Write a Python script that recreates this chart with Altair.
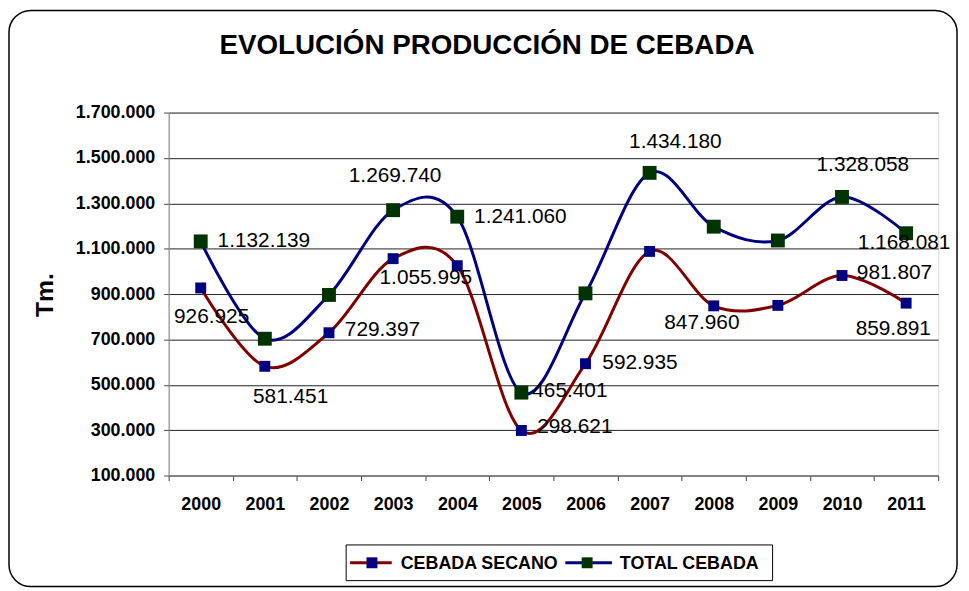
import altair as alt
import pandas as pd

# ---------------- data ----------------
years = ["2000", "2001", "2002", "2003", "2004", "2005",
         "2006", "2007", "2008", "2009", "2010", "2011"]
secano = [926925, 581451, 729397, 1055995, 1025000, 298621,
          592935, 1088000, 847960, 850000, 981807, 859891]
total = [1132139, 703000, 896000, 1269740, 1241060, 465401,
         903000, 1434180, 1197000, 1136000, 1328058, 1168081]
series_names = ["CEBADA SECANO", "TOTAL CEBADA"]
y_ticks = [100000, 300000, 500000, 700000, 900000, 1100000,
           1300000, 1500000, 1700000]
title_text = "EVOLUCIÓN PRODUCCIÓN DE CEBADA"
y_title = "Tm."

# which points carry a value label
secano_labeled = ["2000", "2001", "2002", "2003", "2005", "2006", "2008", "2010", "2011"]
total_labeled = ["2000", "2003", "2004", "2005", "2007", "2010", "2011"]


def fmt(v):
    return f"{v:,}".replace(",", ".")


rows = []
for name, vals in zip(series_names, [secano, total]):
    for yr, v in zip(years, vals):
        rows.append({"year": yr, "series": name, "value": v, "label": fmt(v)})
df = pd.DataFrame(rows)

# ---------------- layout (label placement, pixels) ----------------
label_place = {
    ("TOTAL CEBADA", "2000"): (17, 0, "left"),
    ("TOTAL CEBADA", "2003"): (2, -34, "center"),
    ("TOTAL CEBADA", "2004"): (17, 0, "left"),
    ("TOTAL CEBADA", "2005"): (11, -2, "left"),
    ("TOTAL CEBADA", "2007"): (26, -31, "center"),
    ("TOTAL CEBADA", "2010"): (21, -32, "center"),
    ("TOTAL CEBADA", "2011"): (-2, 10, "center"),
    ("CEBADA SECANO", "2000"): (11, 29, "center"),
    ("CEBADA SECANO", "2001"): (26, 31, "center"),
    ("CEBADA SECANO", "2002"): (16, -3, "left"),
    ("CEBADA SECANO", "2003"): (33, 20, "center"),
    ("CEBADA SECANO", "2005"): (16, -3, "left"),
    ("CEBADA SECANO", "2006"): (17, -1, "left"),
    ("CEBADA SECANO", "2008"): (-12, 17, "center"),
    ("CEBADA SECANO", "2010"): (15, -2, "left"),
    ("CEBADA SECANO", "2011"): (-13, 26, "center"),
}

FONT = "Liberation Sans"
W, H = 776, 366

x_enc = alt.X(
    "year:O",
    scale=alt.Scale(type="band", domain=years, paddingInner=0, paddingOuter=0),
    axis=alt.Axis(title=None, labelAngle=0, tickBand="extent", tickSize=5,
                  labelPadding=15, labelFontSize=18, labelFontWeight="bold",
                  labelFont=FONT, labelColor="black", domainColor="#808080",
                  tickColor="#404040", grid=False, labelBaseline="top"),
)
y_enc = alt.Y(
    "value:Q",
    scale=alt.Scale(domain=[100000, 1700000], nice=False, zero=False),
    axis=alt.Axis(title=None, values=y_ticks, tickSize=5, labelPadding=9,
                  labelFontSize=18, labelFontWeight="bold", labelFont=FONT,
                  labelColor="black", domainColor="#808080", tickColor="#404040",
                  grid=True, gridColor="#202020", gridWidth=1,
                  labelExpr="replace(replace(format(datum.value, ','), ',', '.'), ',', '.')"),
)

base = alt.Chart(df)

line_colors = {"CEBADA SECANO": "#800000", "TOTAL CEBADA": "#000080"}
square_colors = {"CEBADA SECANO": "#000080", "TOTAL CEBADA": "#003300"}
square_sizes = {"CEBADA SECANO": 121, "TOTAL CEBADA": 196}

layers = []
for s in series_names:
    layers.append(
        base.transform_filter(alt.datum.series == s)
        .mark_line(interpolate="cardinal", color=line_colors[s], strokeWidth=3)
        .encode(x=x_enc, y=y_enc)
    )
for s in series_names:
    layers.append(
        base.transform_filter(alt.datum.series == s)
        .mark_square(color=square_colors[s], size=square_sizes[s], opacity=1, filled=True)
        .encode(x=x_enc, y=y_enc)
    )
for s, labeled in zip(series_names, [secano_labeled, total_labeled]):
    for yr in labeled:
        dx, dy, al = label_place[(s, yr)]
        layers.append(
            base.transform_filter((alt.datum.series == s) & (alt.datum.year == yr))
            .mark_text(dx=dx, dy=dy, align=al, baseline="middle", fontSize=21,
                       font=FONT, color="black")
            .encode(x=x_enc, y=y_enc, text="label:N")
        )

one = pd.DataFrame({"k": [0]})

# title and y-axis title
layers.append(alt.Chart(one).mark_text(text=title_text, fontSize=28, fontWeight="bold",
                                       font=FONT, color="black", align="center",
                                       baseline="middle")
              .encode(x=alt.value(321), y=alt.value(-67)))
layers.append(alt.Chart(one).mark_text(text=y_title, fontSize=25, fontWeight="bold",
                                       font=FONT, color="black", align="center",
                                       baseline="middle", angle=270)
              .encode(x=alt.value(-125), y=alt.value(184)))

# legend
layers.append(alt.Chart(one).mark_rect(fill="white", stroke="black", strokeWidth=1)
              .encode(x=alt.value(179), x2=alt.value(609), y=alt.value(436), y2=alt.value(472)))
layers.append(alt.Chart(one).mark_rule(color="#800000", strokeWidth=3)
              .encode(x=alt.value(183), x2=alt.value(225), y=alt.value(454)))
layers.append(alt.Chart(one).mark_square(color="#000080", size=121, opacity=1)
              .encode(x=alt.value(205), y=alt.value(454)))
layers.append(alt.Chart(one).mark_text(text="CEBADA SECANO", fontSize=18, fontWeight="bold",
                                       font=FONT, color="black", align="left", baseline="middle")
              .encode(x=alt.value(234), y=alt.value(455)))
layers.append(alt.Chart(one).mark_rule(color="#000080", strokeWidth=3)
              .encode(x=alt.value(400), x2=alt.value(447), y=alt.value(454)))
layers.append(alt.Chart(one).mark_square(color="#003300", size=121, opacity=1)
              .encode(x=alt.value(422), y=alt.value(454)))
layers.append(alt.Chart(one).mark_text(text="TOTAL CEBADA", fontSize=18, fontWeight="bold",
                                       font=FONT, color="black", align="left", baseline="middle")
              .encode(x=alt.value(455), y=alt.value(455)))

# outer rounded border
layers.append(alt.Chart(one).mark_rect(fillOpacity=0, stroke="black", strokeWidth=1.5,
                                       cornerRadius=22)
              .encode(x=alt.value(-161), x2=alt.value(795), y=alt.value(-103), y2=alt.value(478)))

chart = (
    alt.layer(*layers)
    .properties(width=W, height=H,
                autosize=alt.AutoSizeParams(type="none"),
                padding={"left": 162, "top": 103, "right": 23, "bottom": 114})
    .configure_view(fill="#FFFFCC", stroke="#808080", strokeWidth=1)
    .configure(background="white")
)

chart.save("out.html", embed_options={"renderer": "svg", "actions": False})
